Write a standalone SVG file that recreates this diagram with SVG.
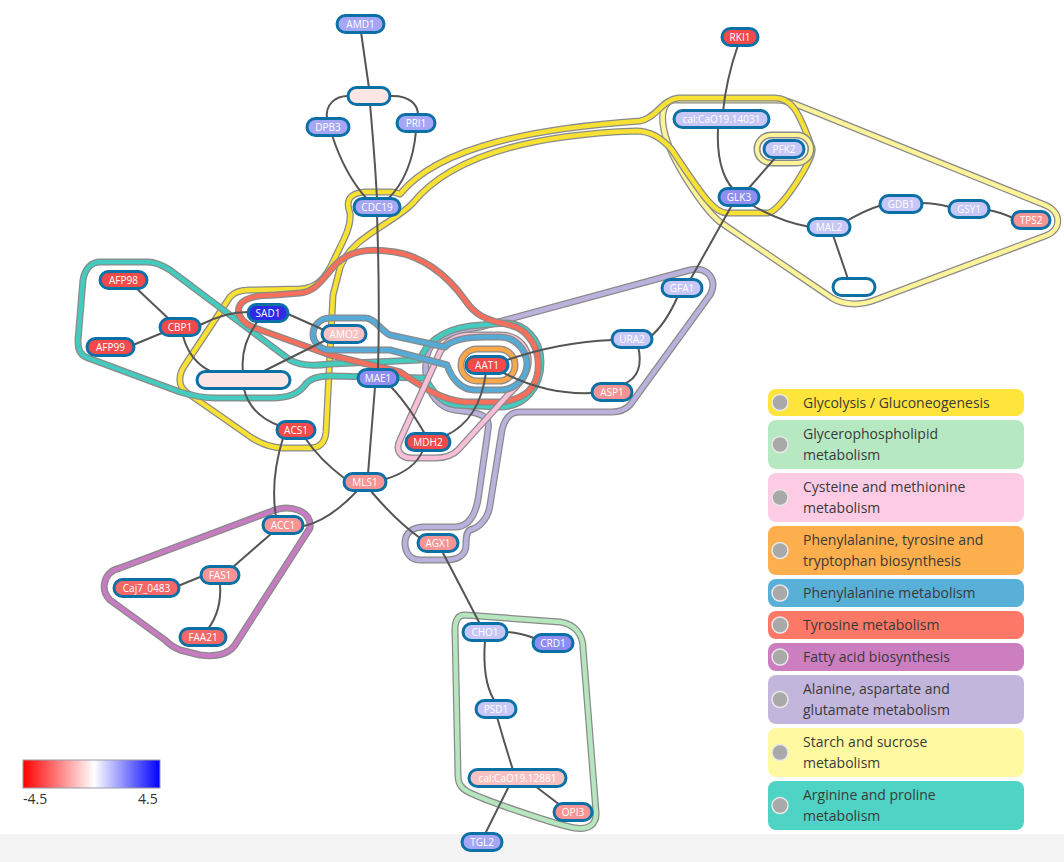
<svg xmlns="http://www.w3.org/2000/svg" xmlns:xlink="http://www.w3.org/1999/xlink" width="1064" height="862" viewBox="0 0 1064 862">
<style>
.o{fill:none;stroke:#8a8a8a;stroke-width:7;stroke-linejoin:round}
.c{fill:none;stroke-width:4.5;stroke-linejoin:round}
.e{fill:none;stroke:#555;stroke-width:2}
.n rect{stroke:#0b70a6;stroke-width:3}
.n text{font-family:"Open Sans","DejaVu Sans",sans-serif;font-size:10px;fill:#fff;text-anchor:middle}
.lg text{font-family:"Open Sans","DejaVu Sans",sans-serif;font-size:14px;fill:#3a3a3a}
.lg circle{fill:#a9a9a9;stroke:#e8e8e8;stroke-width:1.5}
.red{fill:#f24a4a}.red2{fill:#f06868}.lred{fill:#f59494}.pink{fill:#f8c2c2}.vpink{fill:#fbe6e6}
.blue{fill:#2f2ae8}.mblue{fill:#8e8ef2}.mblue2{fill:#a6a6f6}.lblue{fill:#c6c6f7}.wht{fill:#fff}
</style>
<defs>
<linearGradient id="grad" x1="0" y1="0" x2="1" y2="0">
<stop offset="0" stop-color="#ff0000"/><stop offset="0.52" stop-color="#ffffff"/><stop offset="1" stop-color="#0000ff"/>
</linearGradient>
<path id="hYellow" d="M350,213 C345,200 350,193 365,192 L392,192 C396,192 398,194 400,194 C440,145 540,128 640,121 C655,119 662,100 678,98 L775,98 C790,98 798,108 812,148 C815,158 780,212 768,213 L727,213 C715,213 705,200 672,150 C662,138 650,131 636,131 C550,134 455,150 412,204 C392,224 350,238 340,268 L333,295 L326,432 C325,444 318,448 310,448 L283,448 C270,448 260,443 252,438 L186,392 C178,386 178,375 185,365 L230,297 C234,292 240,290 250,290 L300,289 C315,288 325,280 333,262 C340,246 352,228 350,213 Z"/>
<path id="hStarch" d="M675,100 L775,100 C785,100 790,102 800,106 L1045,205 C1062,212 1062,230 1045,236 L875,300 C862,305 845,306 832,298 L720,222 C705,210 670,160 664,130 C660,112 665,100 675,100 Z"/>
<path id="hTeal" d="M100,262 L148,262 C155,262 162,265 170,270 L290,360 C300,366 315,366 330,364 L420,360 C425,345 440,330 470,326 L505,323 C525,323 541,340 541,362 C541,387 525,407 500,407 L455,405 C440,403 432,390 425,378 L330,376 C318,376 310,378 305,385 C300,392 290,398 272,398 L215,398 C200,398 190,395 180,392 L88,358 C80,355 78,350 78,340 L83,280 C85,268 92,262 100,262 Z"/>
<path id="hRed" d="M240,305 C245,297 260,295 275,295 L300,293 C315,292 322,280 335,265 C350,250 370,248 395,252 C420,256 445,272 465,300 C475,315 485,320 510,325 C530,330 540,350 538,370 C536,392 520,400 500,402 L465,402 C440,400 420,385 400,372 L330,355 L255,328 C240,322 236,312 240,305 Z"/>
<path id="hPink" d="M400,440 L440,352 C447,340 458,335 470,335 L500,335 C520,335 530,350 528,365 C526,378 517,386 507,396 L458,450 C452,456 445,458 435,458 L412,458 C400,458 395,450 400,440 Z"/>
<path id="hBlue" d="M330,318 L365,318 C375,318 380,330 390,335 L445,347 C452,340 465,337 485,337 L500,337 C515,337 527,350 527,364 C527,378 515,390 500,390 L475,390 C462,390 452,380 447,365 L390,350 C380,350 375,350 365,350 L330,350 C320,350 313,342 313,334 C313,326 320,318 330,318 Z"/>
<path id="hLav" d="M432,345 C440,335 460,330 480,327 L690,270 C708,266 718,280 710,295 L630,405 C625,410 620,412 612,412 L520,412 C510,412 505,418 502,430 L490,505 C488,520 478,528 470,530 C466,532 466,540 466,545 C466,555 458,560 445,560 L420,560 C410,560 405,552 405,543 C405,533 412,527 425,527 L455,527 C468,527 475,515 478,500 L488,430 C490,420 485,414 470,412 L455,410 C440,408 428,395 426,375 C425,362 426,352 432,345 Z"/>
<path id="hPurple" d="M120,568 L275,510 C290,505 312,510 310,528 L235,645 C228,655 215,657 200,655 L180,650 C175,648 170,645 165,640 L110,600 C100,590 103,572 120,568 Z"/>
<path id="hGreen" d="M465,615 L560,622 C575,624 583,635 583,648 L596,812 C597,825 588,830 575,828 C560,826 490,802 475,795 C462,790 458,785 458,775 L455,630 C455,620 458,615 465,615 Z"/>
<rect id="hPfk" x="757" y="135" width="54" height="28" rx="14"/>
<rect id="hOrange" x="461" y="349" width="54" height="32" rx="16"/>
</defs>
<rect x="0" y="0" width="1064" height="862" fill="#ffffff"/>
<rect x="0" y="834" width="1064" height="28" fill="#f3f3f3"/>
<g id="hulls">
<g id="hull-starch"><use xlink:href="#hStarch" class="o"/><use xlink:href="#hStarch" class="c" stroke="#fdf49a"/></g>
<g id="hull-glycolysis"><use xlink:href="#hYellow" class="o"/><use xlink:href="#hYellow" class="c" stroke="#f7e132"/></g>
<g id="hull-pfk"><use xlink:href="#hPfk" class="o" style="stroke-width:7"/><use xlink:href="#hPfk" class="c" stroke="#fdf49a" style="stroke-width:4"/></g>
<g id="hull-alanine"><use xlink:href="#hLav" class="o"/><use xlink:href="#hLav" class="c" stroke="#bab2dd"/></g>
<g id="hull-arginine"><use xlink:href="#hTeal" class="o"/><use xlink:href="#hTeal" class="c" stroke="#44cbbd"/></g>
<g id="hull-tyrosine"><use xlink:href="#hRed" class="o"/><use xlink:href="#hRed" class="c" stroke="#f66e5c"/></g>
<g id="hull-cysteine"><use xlink:href="#hPink" class="o"/><use xlink:href="#hPink" class="c" stroke="#f8c0d8"/></g>
<g id="hull-phenyl"><use xlink:href="#hBlue" class="o"/><use xlink:href="#hBlue" class="c" stroke="#55aad6"/></g>
<g id="hull-phetyr"><use xlink:href="#hOrange" class="o"/><use xlink:href="#hOrange" class="c" stroke="#f8a84a"/></g>
<g id="hull-fatty"><use xlink:href="#hPurple" class="o"/><use xlink:href="#hPurple" class="c" stroke="#c77bc0"/></g>
<g id="hull-glycero"><use xlink:href="#hGreen" class="o"/><use xlink:href="#hGreen" class="c" stroke="#b6e6bd"/></g>
</g>
<g id="connectors">
<path class="e" d="M361,32 L369,88"/>
<path class="e" d="M370,104 Q375,160 377,199"/>
<path class="e" d="M350,96 C335,95 325,105 327,119"/>
<path class="e" d="M390,96 C410,95 418,105 418,115"/>
<path class="e" d="M332,135 Q345,175 367,199"/>
<path class="e" d="M416,131 Q412,175 388,199"/>
<path class="e" d="M377,215 Q380,300 378,370"/>
<path class="e" d="M738,45 Q726,80 723,112"/>
<path class="e" d="M718,127 Q716,170 733,189"/>
<path class="e" d="M776,157 L748,189"/>
<path class="e" d="M750,204 Q780,222 810,227"/>
<path class="e" d="M732,205 L690,280"/>
<path class="e" d="M845,222 Q865,210 882,205"/>
<path class="e" d="M921,203 Q935,203 950,207"/>
<path class="e" d="M988,210 Q1000,212 1013,218"/>
<path class="e" d="M833,235 L848,279"/>
<path class="e" d="M678,296 Q665,325 650,337"/>
<path class="e" d="M612,340 Q560,342 507,360"/>
<path class="e" d="M638,346 Q645,375 624,384"/>
<path class="e" d="M500,371 Q545,395 592,393"/>
<path class="e" d="M486,372 Q480,420 445,436"/>
<path class="e" d="M388,384 Q405,400 425,434"/>
<path class="e" d="M375,387 L368,474"/>
<path class="e" d="M288,314 L324,330"/>
<path class="e" d="M200,325 Q225,312 248,312"/>
<path class="e" d="M135,287 L170,320"/>
<path class="e" d="M133,345 L162,333"/>
<path class="e" d="M183,336 Q190,362 212,372"/>
<path class="e" d="M258,321 Q240,345 243,372"/>
<path class="e" d="M262,372 L326,340"/>
<path class="e" d="M244,389 Q250,415 280,426"/>
<path class="e" d="M305,438 Q320,460 344,478"/>
<path class="e" d="M283,438 Q270,480 276,517"/>
<path class="e" d="M358,490 Q330,520 304,526"/>
<path class="e" d="M386,479 Q415,470 423,450"/>
<path class="e" d="M370,490 Q395,520 420,538"/>
<path class="e" d="M442,551 L480,624"/>
<path class="e" d="M272,533 L233,567"/>
<path class="e" d="M200,577 L178,586"/>
<path class="e" d="M220,584 Q222,610 208,629"/>
<path class="e" d="M507,632 Q520,633 534,638"/>
<path class="e" d="M485,640 Q482,680 494,700"/>
<path class="e" d="M497,717 Q505,745 513,770"/>
<path class="e" d="M535,786 L560,805"/>
<path class="e" d="M509,786 L485,834"/>
</g>
<g id="n-AMD1" class="n"><rect class="mblue2" x="337" y="15.5" width="47" height="17" rx="8.5"/><text x="360.5" y="27.5">AMD1</text></g>
<g id="n-blankTop" class="n"><rect class="vpink" x="348" y="87.5" width="42" height="17" rx="8.5"/></g>
<g id="n-DPB3" class="n"><rect class="mblue2" x="307" y="118.5" width="42" height="17" rx="8.5"/><text x="328" y="130.5">DPB3</text></g>
<g id="n-PRI1" class="n"><rect class="mblue2" x="397" y="114.5" width="38" height="17" rx="8.5"/><text x="416" y="126.5">PRI1</text></g>
<g id="n-CDC19" class="n"><rect class="mblue2" x="354" y="198.5" width="46" height="17" rx="8.5"/><text x="377" y="210.5">CDC19</text></g>
<g id="n-RKI1" class="n"><rect class="red" x="722" y="28.5" width="36" height="17" rx="8.5"/><text x="740" y="40.5">RKI1</text></g>
<g id="n-cal14031" class="n"><rect class="lblue" x="674" y="110.5" width="95" height="17" rx="8.5"/><text x="721.5" y="122.5">cal:CaO19.14031</text></g>
<g id="n-PFK2" class="n"><rect class="lblue" x="764" y="140.5" width="40" height="17" rx="8.5"/><text x="784" y="152.5">PFK2</text></g>
<g id="n-GLK3" class="n"><rect class="mblue" x="719" y="188.5" width="40" height="17" rx="8.5"/><text x="739" y="200.5">GLK3</text></g>
<g id="n-MAL2" class="n"><rect class="lblue" x="808" y="218.5" width="42" height="17" rx="8.5"/><text x="829" y="230.5">MAL2</text></g>
<g id="n-GDB1" class="n"><rect class="lblue" x="880" y="195.5" width="42" height="17" rx="8.5"/><text x="901" y="207.5">GDB1</text></g>
<g id="n-GSY1" class="n"><rect class="lblue" x="949" y="200.5" width="40" height="17" rx="8.5"/><text x="969" y="212.5">GSY1</text></g>
<g id="n-TPS2" class="n"><rect class="lred" x="1012" y="211.5" width="38" height="17" rx="8.5"/><text x="1031" y="223.5">TPS2</text></g>
<g id="n-blankBot" class="n"><rect class="wht" x="833" y="278.5" width="42" height="17" rx="8.5"/></g>
<g id="n-GFA1" class="n"><rect class="lblue" x="662" y="279.5" width="40" height="17" rx="8.5"/><text x="682" y="291.5">GFA1</text></g>
<g id="n-URA2" class="n"><rect class="lblue" x="612" y="330.5" width="40" height="17" rx="8.5"/><text x="632" y="342.5">URA2</text></g>
<g id="n-ASP1" class="n"><rect class="lred" x="592" y="383.5" width="40" height="17" rx="8.5"/><text x="612" y="395.5">ASP1</text></g>
<g id="n-AFP98" class="n"><rect class="red" x="100" y="271.5" width="47" height="17" rx="8.5"/><text x="123.5" y="283.5">AFP98</text></g>
<g id="n-CBP1" class="n"><rect class="red" x="160" y="318.5" width="40" height="17" rx="8.5"/><text x="180" y="330.5">CBP1</text></g>
<g id="n-AFP99" class="n"><rect class="red" x="87" y="338.5" width="47" height="17" rx="8.5"/><text x="110.5" y="350.5">AFP99</text></g>
<g id="n-SAD1" class="n"><rect class="blue" x="248" y="304.5" width="40" height="17" rx="8.5"/><text x="268" y="316.5">SAD1</text></g>
<g id="n-AMO2" class="n"><rect class="pink" x="322" y="325.5" width="44" height="17" rx="8.5"/><text x="344" y="337.5">AMO2</text></g>
<g id="n-blankLong" class="n"><rect class="vpink" x="197" y="371.5" width="93" height="17" rx="8.5"/></g>
<g id="n-AAT1" class="n"><rect class="red" x="466" y="356.5" width="42" height="17" rx="8.5"/><text x="487" y="368.5">AAT1</text></g>
<g id="n-MAE1" class="n"><rect class="mblue" x="358" y="369.5" width="40" height="17" rx="8.5"/><text x="378" y="381.5">MAE1</text></g>
<g id="n-MDH2" class="n"><rect class="red" x="406" y="433.5" width="44" height="17" rx="8.5"/><text x="428" y="445.5">MDH2</text></g>
<g id="n-ACS1" class="n"><rect class="red" x="277" y="421.5" width="38" height="17" rx="8.5"/><text x="296" y="433.5">ACS1</text></g>
<g id="n-MLS1" class="n"><rect class="lred" x="344" y="473.5" width="42" height="17" rx="8.5"/><text x="365" y="485.5">MLS1</text></g>
<g id="n-ACC1" class="n"><rect class="lred" x="263" y="516.5" width="40" height="17" rx="8.5"/><text x="283" y="528.5">ACC1</text></g>
<g id="n-FAS1" class="n"><rect class="lred" x="201" y="566.5" width="38" height="17" rx="8.5"/><text x="220" y="578.5">FAS1</text></g>
<g id="n-Caj7" class="n"><rect class="red2" x="114" y="579.5" width="65" height="17" rx="8.5"/><text x="146.5" y="591.5">Caj7_0483</text></g>
<g id="n-FAA21" class="n"><rect class="red2" x="180" y="628.5" width="46" height="17" rx="8.5"/><text x="203" y="640.5">FAA21</text></g>
<g id="n-AGX1" class="n"><rect class="lred" x="418" y="534.5" width="40" height="17" rx="8.5"/><text x="438" y="546.5">AGX1</text></g>
<g id="n-CHO1" class="n"><rect class="lblue" x="463" y="623.5" width="44" height="17" rx="8.5"/><text x="485" y="635.5">CHO1</text></g>
<g id="n-CRD1" class="n"><rect class="mblue" x="533" y="634.5" width="40" height="17" rx="8.5"/><text x="553" y="646.5">CRD1</text></g>
<g id="n-PSD1" class="n"><rect class="lblue" x="476" y="700.5" width="40" height="17" rx="8.5"/><text x="496" y="712.5">PSD1</text></g>
<g id="n-cal12881" class="n"><rect class="pink" x="469" y="769.5" width="97" height="17" rx="8.5"/><text x="517.5" y="781.5">cal:CaO19.12881</text></g>
<g id="n-OPI3" class="n"><rect class="lred" x="554" y="803.5" width="38" height="17" rx="8.5"/><text x="573" y="815.5">OPI3</text></g>
<g id="n-TGL2" class="n"><rect class="mblue2" x="462" y="833.5" width="40" height="17" rx="8.5"/><text x="482" y="845.5">TGL2</text></g>
<g id="legend" class="lg">
<rect x="768" y="389" width="256" height="27" rx="8" fill="#ffe53b"/><circle cx="780" cy="402.5" r="8"/><text x="803" y="408">Glycolysis / Gluconeogenesis</text>
<rect x="768" y="420" width="256" height="49" rx="8" fill="#b6e9c1"/><circle cx="780" cy="444.5" r="8"/><text x="803" y="439">Glycerophospholipid</text><text x="803" y="460">metabolism</text>
<rect x="768" y="473" width="256" height="49" rx="8" fill="#fecbe4"/><circle cx="780" cy="497.5" r="8"/><text x="803" y="492">Cysteine and methionine</text><text x="803" y="513">metabolism</text>
<rect x="768" y="526" width="256" height="49" rx="8" fill="#fdae4d"/><circle cx="780" cy="550.5" r="8"/><text x="803" y="545">Phenylalanine, tyrosine and</text><text x="803" y="566">tryptophan biosynthesis</text>
<rect x="768" y="579" width="256" height="28" rx="8" fill="#58afd7"/><circle cx="780" cy="593" r="8"/><text x="803" y="598">Phenylalanine metabolism</text>
<rect x="768" y="611" width="256" height="28" rx="8" fill="#fd7866"/><circle cx="780" cy="625" r="8"/><text x="803" y="630">Tyrosine metabolism</text>
<rect x="768" y="643" width="256" height="28" rx="8" fill="#cc7ec1"/><circle cx="780" cy="657" r="8"/><text x="803" y="662">Fatty acid biosynthesis</text>
<rect x="768" y="675" width="256" height="49" rx="8" fill="#c3b6dc"/><circle cx="780" cy="699.5" r="8"/><text x="803" y="694">Alanine, aspartate and</text><text x="803" y="715">glutamate metabolism</text>
<rect x="768" y="728" width="256" height="49" rx="8" fill="#fffaa2"/><circle cx="780" cy="752.5" r="8"/><text x="803" y="747">Starch and sucrose</text><text x="803" y="768">metabolism</text>
<rect x="768" y="781" width="256" height="49" rx="8" fill="#4fd3c4"/><circle cx="780" cy="805.5" r="8"/><text x="803" y="800">Arginine and proline</text><text x="803" y="821">metabolism</text>
</g>
<g id="colorbar">
<rect x="23" y="760" width="137" height="28" fill="url(#grad)" stroke="#9a9aaa" stroke-width="1"/>
<text x="23" y="804" font-family="Open Sans, DejaVu Sans, sans-serif" font-size="14" fill="#333">-4.5</text>
<text x="138" y="804" font-family="Open Sans, DejaVu Sans, sans-serif" font-size="14" fill="#333">4.5</text>
</g>
</svg>
